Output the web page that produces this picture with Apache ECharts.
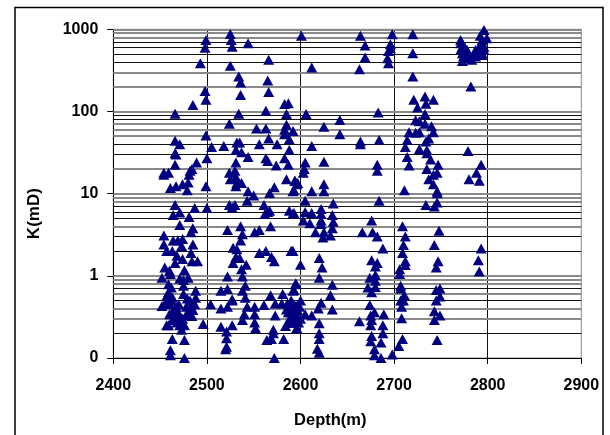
<!DOCTYPE html>
<html><head><meta charset="utf-8">
<script src="https://cdn.jsdelivr.net/npm/echarts@6/dist/echarts.min.js"></script>
<style>html,body{margin:0;padding:0;background:#fff}#c{width:610px;height:435px}</style>
</head><body><div id="c"></div>
<script>
const pointsUpperLeft=[[2525,878],[2526,741],[2527,615],[2499,741],[2498,598],[2544,676],[2493,386],[2525,359],[2566,425],[2534,266],[2536,225],[2565,238],[2498,178],[2566,173],[2499,139],[2536,159],[2485,120],[2466,94],[2534,94],[2563,102],[2583,123],[2587,126],[2585,93],[2524,71],[2553,62],[2563,62],[2585,69],[2583,60],[2592,58],[2583,53],[2499,51],[2466,44],[2471,40],[2588,46],[2566,47],[2532,42],[2535,42],[2556,40],[2575,40],[2518,38],[2505,37],[2531,34],[2537,32],[2588,34],[2466,31],[2467,30],[2544,28],[2563,27],[2583,27],[2500,27],[2489,24],[2466,22.5],[2531,24],[2565,25],[2574,22],[2587,22.5],[2484,20],[2482,19],[2459,18],[2454,17],[2454,18],[2524,18],[2530,19],[2481,17],[2525,15],[2531,16],[2585,15],[2594,14.4],[2597,13.5],[2532,13.5],[2537,13.5],[2480,13.7],[2474,13],[2467,12.3],[2461,11.7],[2499,12.3],[2479,11],[2531,12.3],[2544,10.7],[2550,9.5],[2572,12],[2567,10.2],[2592,10.7]];
const pointsLowerLeft=[[2543,8.2],[2466,7.3],[2487,6.7],[2500,6.7],[2524,7.3],[2530,7.3],[2527,6.8],[2561,7.3],[2471,5.9],[2565,6],[2567,6.2],[2562,5.65],[2588,6.2],[2592,5.75],[2464,5.5],[2481,5.2],[2471,4.15],[2485,3.8],[2483,3.4],[2536,4],[2522,3.6],[2538,3.2],[2556,3.6],[2551,3.4],[2568,4],[2454,3.1],[2464,2.7],[2474,2.8],[2469,2.7],[2473,2.3],[2485,2.4],[2536,2.7],[2454,2.4],[2457,2],[2463,2],[2483,1.9],[2528,2.2],[2532,2.1],[2468,1.75],[2474,1.6],[2556,1.9],[2563,2],[2590,2],[2592,2],[2531,1.7],[2535,1.65],[2569,1.7],[2572,1.5],[2490,1.5],[2484,1.5],[2466,1.43],[2528,1.43],[2542,1.36],[2455,1.26],[2476,1.17],[2537,1.2],[2460,1.15],[2452,.95],[2471,.93],[2480,.95],[2522,.98],[2538,.98],[2461,1.05],[2475,.89],[2459,.79],[2462,.72],[2475,.755],[2541,.755],[2538,.66],[2595,.79],[2592,.66],[2488,.66],[2515,.66],[2522,.69],[2459,.63],[2457,.57],[2475,.6],[2479,.53],[2488,.54],[2568,.58],[2581,.6],[2527,.52],[2541,.54],[2462,.5],[2460,.45],[2452,.43],[2487,.45],[2504,.45],[2478,.42],[2527,.5],[2543,.42],[2551,.42],[2561,.44],[2573,.46],[2580,.46],[2593,.45],[2515,.4],[2522,.42],[2485,.385],[2585,.39],[2596,.43],[2460,.34],[2540,.34],[2551,.34],[2573,.33],[2471,.33],[2478,.33],[2484,.325],[2538,.29],[2589,.31],[2596,.31],[2457,.25],[2459,.25],[2471,.25],[2476,.25],[2496,.26],[2515,.24],[2527,.25],[2551,.27],[2521,.21],[2552,.23],[2584,.245],[2596,.23],[2473,.22],[2571,.22],[2571,.2],[2463,.17],[2476,.166],[2564,.166],[2569,.17],[2582,.17],[2521,.174],[2521,.137],[2461,.124],[2520,.128],[2461,.108],[2476,.1],[2572,.1],[2465,.3],[2468,.27],[2472,.28],[2463,.29],[2474,.3],[2469,.36],[2464,.38],[2467,.42],[2456,.47],[2458,.52],[2463,.55],[2470,.45],[2482,.5],[2483,.42],[2480,.37],[2587,.36],[2590,.36],[2594,.36],[2597,.38],[2590,.27],[2587,.27],[2598,.27],[2600,.3],[2599,.42],[2586,.46],[2590,.5]];
const pointsUpperRight=[[2601,837],[2664,837],[2698,869],[2720,869],[2669,634],[2696,658],[2696,587],[2694,546],[2669,453],[2720,512],[2693,445],[2694,386],[2612,342],[2663,326],[2720,266],[2782,201],[2771,741],[2796,981],[2792,837],[2799,778],[2773,615],[2776,587],[2773,512],[2778,497],[2787,561],[2796,615],[2794,512],[2773,412],[2783,425],[2787,466],[2794,487],[2771,676],[2774,640],[2771,561],[2774,466],[2778,561],[2785,497],[2789,536],[2794,676],[2796,561],[2790,587],[2780,453],[2794,741],[2721,139],[2733,152],[2742,139],[2734,124],[2725,112],[2733,93],[2683,97],[2606,93],[2642,79],[2625,65],[2723,78],[2727,76],[2733,71],[2740,66],[2742,56],[2716,56],[2723,55],[2727,56],[2642,53],[2714,45],[2737,47],[2734,43],[2664,43],[2684,45],[2664,40],[2612,38],[2712,37],[2727,35],[2735,34],[2735,31],[2779,33],[2714,28],[2739,26],[2605,24],[2625,24.5],[2716,22],[2747,22.5],[2682,22.5],[2682,19],[2735,20],[2793,22.5],[2604,20],[2603,18],[2746,18],[2788,18],[2742,17],[2737,15],[2780,15],[2791,14.4],[2594,14.4],[2596,13],[2625,13],[2742,13],[2711,11],[2593,11],[2612,10.7],[2625,10.7],[2746,10.7]];
const pointsLowerRight=[[2684,8.2],[2746,10.1],[2605,8.2],[2635,7.6],[2734,7.3],[2746,7.8],[2743,7],[2622,6.5],[2593,5.8],[2605,6],[2612,5.8],[2634,5.5],[2622,5.65],[2676,4.7],[2603,4.7],[2610,4.35],[2622,4.7],[2635,4.55],[2709,4],[2622,4.27],[2634,3.8],[2616,3.4],[2625,3.4],[2666,3.4],[2677,3.4],[2748,3.54],[2632,3.1],[2624,2.93],[2682,3],[2712,3],[2710,2.37],[2743,2.37],[2688,2.15],[2793,2.15],[2591,2],[2620,1.65],[2709,1.9],[2790,1.55],[2676,1.55],[2682,1.43],[2712,1.5],[2747,1.5],[2680,1.3],[2712,1.35],[2600,1.36],[2623,1.26],[2706,1.2],[2745,1.26],[2706,1.05],[2791,1.13],[2674,.95],[2680,1.02],[2680,.87],[2620,.95],[2595,.81],[2634,.78],[2707,.755],[2672,.72],[2680,.73],[2593,.67],[2707,.7],[2745,.67],[2749,.7],[2676,.63],[2632,.58],[2749,.56],[2711,.58],[2600,.5],[2622,.47],[2745,.5],[2707,.5],[2710,.5],[2674,.44],[2708,.42],[2619,.4],[2634,.39],[2743,.37],[2679,.36],[2689,.34],[2675,.33],[2605,.34],[2612,.33],[2749,.33],[2708,.305],[2676,.29],[2663,.28],[2743,.29],[2620,.265],[2675,.25],[2688,.25],[2594,.39],[2592,.33],[2591,.27],[2596,.23],[2620,.2],[2688,.2],[2676,.185],[2709,.17],[2746,.166],[2620,.17],[2675,.16],[2686,.154],[2705,.14],[2679,.128],[2618,.13],[2698,.11],[2620,.116],[2679,.108],[2686,.1],[2593,.45],[2593,.27]];
const hardGrid=[700,600,500,400,90,80,40,30,7,6,5,3,2,.7,.5,.2];
const softGrid=[1000,900,800,300,200,100,70,60,50,20,10,9,8,4,1,.9,.8,.6,.4,.3];
const xTitle='Depth(m)',yTitle='K(mD)';
const font={fontFamily:'"Liberation Sans",Arial,sans-serif',fontWeight:'bold',fontSize:16,color:'#000'};
const chart=echarts.init(document.getElementById('c'),null,{renderer:'canvas'});
chart.setOption({
  animation:false,backgroundColor:'#fff',
  graphic:[{type:'rect',silent:true,z:0,shape:{x:15,y:7.5,width:588,height:445},style:{fill:'none',stroke:'#000',lineWidth:1.5}}],
  grid:{left:113.3,right:28.7,top:29.3,bottom:77,show:true,borderColor:'#888',borderWidth:1,backgroundColor:'transparent'},
  xAxis:{type:'value',min:2400,max:2900,interval:100,name:xTitle,nameLocation:'middle',nameGap:54,nameTextStyle:{...font,fontSize:16.5,padding:[0,34,0,0]},
    axisLine:{show:true,onZero:false,lineStyle:{color:'#000',width:1}},axisTick:{show:true,length:6,lineStyle:{color:'#000'}},
    axisLabel:{...font,margin:20,showMinLabel:true,showMaxLabel:true,formatter:v=>String(v)},
    splitLine:{show:true,showMinLine:false,showMaxLine:false,lineStyle:{color:'#111',width:1}}},
  yAxis:{type:'log',logBase:10,min:.1,max:1000,name:yTitle,nameLocation:'middle',nameGap:70,nameTextStyle:{...font,fontSize:17,padding:[0,40,0,0]},
    axisLine:{show:true,onZero:false,lineStyle:{color:'#000',width:1}},axisTick:{show:true,length:6,lineStyle:{color:'#000'}},
    axisLabel:{...font,margin:15,formatter:v=>v<1?'0':String(Math.round(v))},
    splitLine:{show:false}},
  series:[
    {type:'scatter',data:[],silent:true,z:1,markLine:{silent:true,animation:false,symbol:'none',precision:3,label:{show:false},lineStyle:{color:'#8a8a8a',width:2,type:'solid'},data:softGrid.map(v=>({yAxis:v}))}},
    {type:'scatter',data:[],silent:true,z:2,markLine:{silent:true,animation:false,symbol:'none',precision:3,label:{show:false},lineStyle:{color:'#111',width:1,type:'solid'},data:hardGrid.map(v=>({yAxis:v}))}},
    {type:'scatter',z:5,clip:false,symbol:'triangle',symbolSize:[11,10],itemStyle:{color:'#000080',opacity:1},
     data:[...pointsUpperLeft,...pointsLowerLeft,...pointsUpperRight,...pointsLowerRight]}
  ]
});
</script></body></html>
